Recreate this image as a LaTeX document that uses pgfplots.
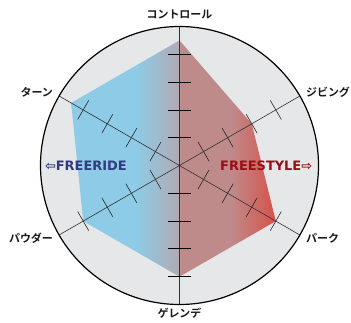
\documentclass[border=0pt]{standalone}
\usepackage{pgfplots}
\pgfplotsset{compat=1.18}
\usepgfplotslibrary{polar}
\usepackage{fontspec}
\setmainfont{Noto Sans CJK JP}
\newfontfamily\jp{Noto Sans CJK JP}[BoldFont={Noto Sans CJK JP Bold}]
\newfontfamily\dv{DejaVu Sans}

\definecolor{bgc}{HTML}{E6E7E9}
\definecolor{cblue}{HTML}{8DCBE6}
\definecolor{cgray}{HTML}{B2AAB4}
\definecolor{crose}{HTML}{BF8A8A}
\definecolor{cred}{HTML}{D6524A}
\definecolor{ride}{HTML}{323A80}
\definecolor{style}{HTML}{9A0E14}

% horizontal fill: blue -> grey at the centre line, rose -> red on the right
\pgfdeclarehorizontalshading{ridestyle}{100bp}{%
  color(0bp)=(cblue); color(25bp)=(cblue); color(41bp)=(cblue);
  color(51.4bp)=(cgray); color(51.6bp)=(crose); color(64bp)=(crose);
  color(75bp)=(cred); color(100bp)=(cred)}

\begin{document}
\begin{tikzpicture}
\begin{polaraxis}[
    scale only axis,
    width=278bp, height=278bp,
    ymin=0, ymax=5,
    xtick={30,90,150,210,270,330},
    xticklabels={},
    ytick=\empty,
    tick style={draw=none},
    xmajorgrids,
    major x grid style={draw=black!80, line width=0.6bp},
    separate axis lines,
    x axis line style={line width=1.2bp, black},
    y axis line style={draw=none},
    axis background/.style={fill=bgc},
    axis on top,
    clip=false,
  ]
  % scores
  \addplot[draw=none, shading=ridestyle] coordinates {
    (90,4.5) (30,3) (330,4) (270,4) (210,4) (150,4.5)} -- cycle;

  % vertical axis
  \addplot[black, line width=1.1bp] coordinates {(90,5) (270,5)};

  % tick marks at 1..4 on each axis
  \addplot[only marks, mark=|, mark size=11bp, mark options={rotate=90, black, line width=0.8bp}]
    coordinates {(90,1) (90,2) (90,3) (90,4) (270,1) (270,2) (270,3) (270,4)};
  \addplot[only marks, mark=|, mark size=11bp, mark options={rotate=30, black!85, line width=0.6bp}]
    coordinates {(30,1) (30,2) (30,3) (30,4) (210,1) (210,2) (210,3) (210,4)};
  \addplot[only marks, mark=|, mark size=11bp, mark options={rotate=150, black!85, line width=0.6bp}]
    coordinates {(150,1) (150,2) (150,3) (150,4) (330,1) (330,2) (330,3) (330,4)};

  \coordinate (c) at (axis cs:0,0);

  % category labels
  \begin{scope}[every node/.style={inner sep=0pt, text=black!90, font=\jp\bfseries\fontsize{11}{13}\selectfont}]
    \node[anchor=center] at (axis cs:90,5.45) {コントロール};
    \node[anchor=west]   at (axis cs:30,5.25) {ジビング};
    \node[anchor=west]   at (axis cs:330,5.25) {パーク};
    \node[anchor=center] at (axis cs:270,5.3) {ゲレンデ};
    \node[anchor=east]   at (axis cs:210,5.25) {パウダー};
    \node[anchor=east]   at (axis cs:150,5.25) {ターン};
  \end{scope}

  \begin{scope}[every node/.style={inner sep=0pt, font=\dv\bfseries\fontsize{13}{15}\selectfont}]
    \node[anchor=east, text=ride] at (axis cs:180,1.89) {⇦FREERIDE};
    \node[anchor=west, text=style] at (axis cs:0,1.457) {FREESTYLE⇨};
  \end{scope}
\end{polaraxis}
\pgfresetboundingbox
\path (c) ++(-179.5bp,-157.5bp) rectangle ++(351bp,323bp);
\end{tikzpicture}
\end{document}
